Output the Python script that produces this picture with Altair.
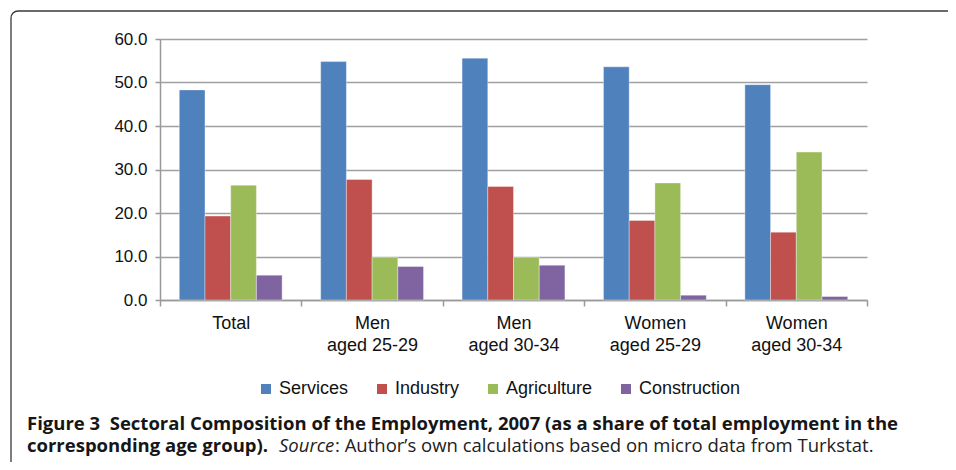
import altair as alt
import pandas as pd

groups = ["Total", "Men\naged 25-29", "Men\naged 30-34", "Women\naged 25-29", "Women\naged 30-34"]
sectors = ["Services", "Industry", "Agriculture", "Construction"]
services = [48.3, 54.8, 55.6, 53.6, 49.5]
industry = [19.3, 27.7, 26.1, 18.3, 15.6]
agriculture = [26.4, 9.8, 9.8, 26.9, 34.0]
construction = [5.7, 7.7, 8.0, 1.1, 0.8]
colors = ["#4F81BD", "#C0504D", "#9BBB59", "#8064A2"]
y_ticks = [0, 10, 20, 30, 40, 50, 60]

rows = []
for s, vals in zip(sectors, [services, industry, agriculture, construction]):
    for g, v in zip(groups, vals):
        rows.append({"group": g, "sector": s, "value": v})
df = pd.DataFrame(rows)

caption1 = "Figure 3\u00a0 Sectoral Composition of the Employment, 2007 (as a share of total employment in the"
caption2a = "corresponding age group)."
caption2b = "Source"
caption2c = ": Author\u2019s own calculations based on micro data from Turkstat."

one = pd.DataFrame({"k": [0]})
cap_font = "Open Sans"
cap_size = 18.5

frame = alt.Chart(one).mark_rect(
    fillOpacity=0, stroke="#3a3a3a", strokeWidth=1.3, cornerRadius=7
).encode(x=alt.value(-149), x2=alt.value(1000), y=alt.value(-28), y2=alt.value(700))

bars = alt.Chart(df).mark_bar(stroke="#ffffff", strokeWidth=0.6, strokeOpacity=0.6).encode(
    x=alt.X("group:N", sort=groups, title=None,
            scale=alt.Scale(paddingInner=0, paddingOuter=0),
            axis=alt.Axis(labelAngle=0, labelExpr="split(datum.label, '\\n')",
                          labelFont="Liberation Sans", labelFontSize=18, labelColor="#111111",
                          labelLineHeight=22, labelPadding=8, tickSize=6, tickBand="extent",
                          domainColor="#999999", tickColor="#999999", domainWidth=1.5, tickWidth=1.5)),
    xOffset=alt.XOffset("sector:N", sort=sectors,
                        scale=alt.Scale(paddingInner=0, paddingOuter=0.75)),
    y=alt.Y("value:Q", title=None,
            scale=alt.Scale(domain=[0, 60], nice=False),
            axis=alt.Axis(values=y_ticks, format=".1f", labelFont="Liberation Sans",
                          labelFontSize=17, labelColor="#111111", labelPadding=8, tickSize=5,
                          grid=True, gridColor="#a0a0a0", gridWidth=1.5,
                          domainColor="#999999", tickColor="#999999", domainWidth=1.5, tickWidth=1.5)),
    color=alt.Color("sector:N", sort=sectors, title=None,
                    scale=alt.Scale(domain=sectors, range=colors),
                    legend=alt.Legend(orient="none", legendX=97, legendY=341, direction="horizontal",
                                      symbolType="square", symbolSize=100, symbolStrokeWidth=0,
                                      labelFont="Liberation Sans", labelFontSize=18, labelColor="#111111",
                                      labelOffset=4, columnPadding=24)),
)

t1 = alt.Chart(one).mark_text(
    text=caption1, align="left", baseline="alphabetic", font=cap_font,
    fontSize=cap_size, fontWeight="bold", color="#161616"
).encode(x=alt.value(-133), y=alt.value(391))
t2a = alt.Chart(one).mark_text(
    text=caption2a, align="left", baseline="alphabetic", font=cap_font,
    fontSize=cap_size, fontWeight="bold", color="#161616"
).encode(x=alt.value(-133), y=alt.value(413))
t2b = alt.Chart(one).mark_text(
    text=caption2b, align="left", baseline="alphabetic", font=cap_font,
    fontSize=cap_size, fontStyle="italic", color="#222222"
).encode(x=alt.value(119), y=alt.value(413))
t2c = alt.Chart(one).mark_text(
    text=caption2c, align="left", baseline="alphabetic", font=cap_font,
    fontSize=cap_size, color="#222222"
).encode(x=alt.value(175), y=alt.value(413))

chart = alt.layer(frame, bars, t1, t2a, t2b, t2c).properties(
    width=707, height=261,
    autosize=alt.AutoSizeParams(type="none"),
    padding={"left": 152, "top": 31, "right": 81, "bottom": 162},
).configure_view(strokeWidth=0)

chart.save("out.html", embed_options={"renderer": "svg", "actions": False})
